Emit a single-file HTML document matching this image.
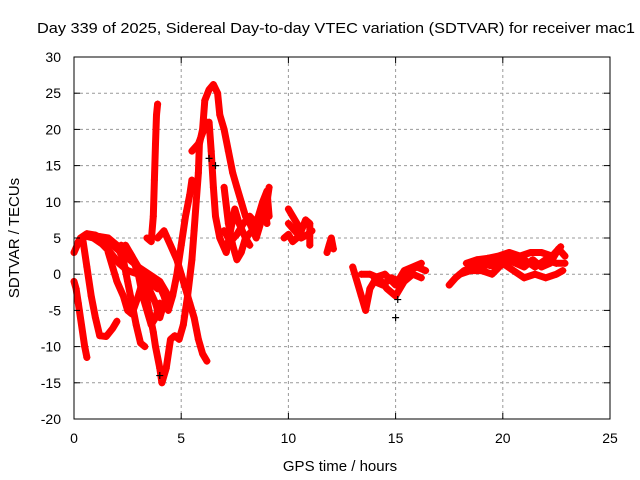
<!DOCTYPE html>
<html><head><meta charset="utf-8"><style>
html,body{margin:0;padding:0;background:#fff;}
svg{display:block;font-family:"Liberation Sans",Arial,sans-serif;}
</style></head><body>
<svg id="chart" width="640" height="480" viewBox="0 0 640 480">
<rect width="640" height="480" fill="#fff"/>
<text x="37" y="33" font-size="15" textLength="598" lengthAdjust="spacingAndGlyphs">Day 339 of 2025, Sidereal Day-to-day VTEC variation (SDTVAR) for receiver mac1</text>
<g id="grid"></g>
<g id="series"></g>
<rect x="74" y="57" width="536" height="362" fill="none" stroke="#000" stroke-width="1"/>
<g id="ticks"></g>
<text x="340" y="471" font-size="15" text-anchor="middle">GPS time / hours</text>
<text transform="translate(19,238) rotate(-90)" font-size="15" text-anchor="middle">SDTVAR / TECUs</text>
</svg>
<script>
const xTicks=[0,5,10,15,20,25];
const yTicks=[-20,-15,-10,-5,0,5,10,15,20,25,30];
const traceA=[[0,3],[0.3,5],[0.6,5.6],[1,5.4],[1.4,4.8],[1.8,4],[2.2,3],[2.6,2],[3,1],[3.5,0],[4,-1],[4.4,-3]];
const traceA2=[[0.2,4.5],[0.5,5.3],[0.9,5],[1.3,4.2],[1.7,3],[2.1,1.5],[2.5,0.5],[3,0],[3.5,-1],[3.9,-2]];
const traceB=[[0,-1],[0.1,-2],[0.2,-4],[0.35,-7],[0.5,-10],[0.6,-11.5]];
const traceC=[[0.4,5],[0.6,1],[0.8,-3],[1,-6],[1.2,-8.5],[1.5,-8.6],[1.8,-7.5],[2,-6.5]];
const traceD=[[1.2,5.2],[1.6,5],[2,4],[2.3,2],[2.5,-1],[2.7,-4],[2.9,-7],[3.1,-9.5],[3.3,-10]];
const traceE=[[1.6,3],[1.8,1],[2,-1],[2.3,-3],[2.5,-5],[2.7,-5.5],[3,-3],[3.2,-1],[3.5,-2],[3.8,-4],[4,-6],[4.2,-4]];
const traceE2=[[2.4,4],[2.7,2.5],[3,0],[3.2,-3],[3.4,-5],[3.6,-7],[3.8,-6],[4,-4]];
const traceF=[[2.2,4],[2.6,3],[3,1],[3.3,-2],[3.5,-5],[3.7,-8],[3.8,-10],[4,-13],[4.1,-15],[4.3,-13],[4.5,-9],[4.7,-8.5],[4.9,-9],[5.1,-7],[5.3,-3],[5.5,2],[5.6,6],[5.7,10],[5.8,14],[5.85,18],[6,20],[6.1,24],[6.3,25.5],[6.5,26.2],[6.7,25],[6.8,22],[7,20],[7.2,17],[7.4,14],[7.6,12],[7.8,10],[8,8],[8.2,7],[8.5,5],[8.8,8],[9,10],[9.1,12]];
const traceG=[[3.4,5],[3.6,4.5],[3.7,8],[3.75,13],[3.8,18],[3.85,22],[3.9,23.5]];
const traceH=[[3.9,-1],[4.2,-3],[4.4,-5],[4.6,-3],[4.8,0],[5,4],[5.2,8],[5.4,11],[5.5,13]];
const traceI=[[3.9,5],[4.2,6],[4.5,4],[4.8,2],[5,0],[5.2,-2],[5.4,-4],[5.6,-6],[5.8,-9],[6,-11],[6.2,-12]];
const traceJ=[[6.3,21],[6.4,17],[6.5,12],[6.6,8],[6.8,5],[7.1,3],[7.3,6],[7.5,9],[7.7,7],[8,5],[8.3,6],[8.6,7],[8.9,9],[9,7]];
const traceK=[[7,12],[7.2,7],[7.4,4],[7.6,2],[7.8,3],[8,5],[8.2,4]];
const traceK2=[[7,6],[7.3,4.5],[7.6,5.5],[7.9,7],[8.2,8],[8.5,7],[8.8,10],[9,11.5],[9.1,8]];
const traceK3=[[5.5,17],[5.8,18],[6,19.5],[6.2,21]];
const traceL=[[9.8,5],[10,5.5],[10.2,4.5],[10.4,5]];
const traceM=[[10,9],[10.2,8],[10.4,7],[10.6,6],[10.8,7.5],[11,7],[11,4]];
const traceM2=[[10,7],[10.3,6],[10.6,5],[10.9,5.5],[11.1,6]];
const traceN=[[11.8,3],[11.9,4],[12,5],[12.1,3.5]];
const traceO=[[13,1],[13.2,-1],[13.4,-3],[13.6,-5],[13.8,-2],[14,-1],[14.4,-1.5],[14.8,-0.5],[15.2,-1],[15.6,0.5],[16,1],[16.4,0.5]];
const traceP=[[13.4,0],[13.8,0],[14.2,-0.5],[14.6,-2],[15,-3],[15.4,-1],[15.8,0],[16.2,-0.5]];
const traceP2=[[14,-0.5],[14.5,0],[15,-1.5],[15.4,0.5],[15.8,1],[16.2,1.5]];
const traceQ=[[17.5,-1.5],[17.8,-0.5],[18.2,0.5],[18.6,1],[19,1.5],[19.4,1.2],[19.8,1],[20.2,2],[20.6,1.5],[21,1],[21.4,2],[21.8,1],[22.2,1.5],[22.6,3.5],[22.9,2.5]];
const traceR=[[18,0],[18.5,0.5],[19,0.5],[19.5,0],[20,1.5],[20.5,0.5],[21,-0.5],[21.5,0],[22,-0.5],[22.5,0],[22.8,0.5]];
const traceS=[[18.3,1.5],[18.8,2],[19.3,2.2],[19.8,2.5],[20.3,3],[20.8,2.5],[21.3,3],[21.8,3],[22.3,2.5],[22.7,3.8]];
const traceS2=[[18.5,1],[19,1],[19.5,1.5],[20,2.5],[20.5,2],[21,2],[21.5,1],[22,2],[22.5,1.5],[22.9,1.5]];
const blackPts=[[15,-6],[6.3,16],[4,-14],[6.6,15],[15.1,-3.5]];
const redTraces=[traceA,traceA2,traceB,traceC,traceD,traceE,traceE2,traceF,traceG,traceH,traceI,traceJ,traceK,traceK2,traceK3,traceL,traceM,traceM2,traceN,traceO,traceP,traceP2,traceQ,traceR,traceS,traceS2];

const NS="http://www.w3.org/2000/svg";
const X0=74,X1=610,Y0=419,Y1=57;
function xs(v){return X0+(v-0)/(25-0)*(X1-X0);}
function ys(v){return Y0-(v+20)/(50)*(Y0-Y1);}
function mk(tag,attrs,parent){const e=document.createElementNS(NS,tag);for(const k in attrs)e.setAttribute(k,attrs[k]);parent.appendChild(e);return e;}
const grid=document.getElementById('grid'),ticks=document.getElementById('ticks'),series=document.getElementById('series');
xTicks.forEach(t=>{
  const x=xs(t);
  if(t>0&&t<25){const g=mk('line',{x1:x,x2:x,y1:Y1,y2:Y0,stroke:'#999','stroke-dasharray':'3,3'},grid);
  
  }
  mk('line',{x1:x,x2:x,y1:Y0,y2:Y0-6,stroke:'#000'},ticks);
  mk('line',{x1:x,x2:x,y1:Y1,y2:Y1+6,stroke:'#000'},ticks);
  const l=mk('text',{x:x,y:443,'font-size':14,'text-anchor':'middle'},ticks);l.textContent=t;
  
  
});
yTicks.forEach(t=>{
  const y=ys(t);
  if(t>-20&&t<30){const g=mk('line',{x1:X0,x2:X1,y1:y,y2:y,stroke:'#999','stroke-dasharray':'3,3'},grid);
  
  }
  mk('line',{x1:X0,x2:X0+6,y1:y,y2:y,stroke:'#000'},ticks);
  mk('line',{x1:X1,x2:X1-6,y1:y,y2:y,stroke:'#000'},ticks);
  const l=mk('text',{x:61,y:y+5,'font-size':14,'text-anchor':'end'},ticks);l.textContent=t;
  
  
});
function plus(x,y,c,g){
  mk('path',{d:`M${x-3.5},${y}h7M${x},${y-3.5}v7`,stroke:c,'stroke-width':1.2,fill:'none'},g);
}
redTraces.forEach(tr=>{
  const g=mk('g',{},series);
  
  
  const d=tr.map((p,i)=>(i?'L':'M')+xs(p[0]).toFixed(1)+','+ys(p[1]).toFixed(1)).join('');
  mk('path',{d:d,stroke:'#f00','stroke-width':7,fill:'none','stroke-linejoin':'round','stroke-linecap':'round'},g);
  tr.forEach(p=>plus(xs(p[0]),ys(p[1]),'#f00',g));
});
const bg=mk('g',{},series);


blackPts.forEach(p=>plus(xs(p[0]),ys(p[1]),'#000',bg));
</script>
</body></html>
